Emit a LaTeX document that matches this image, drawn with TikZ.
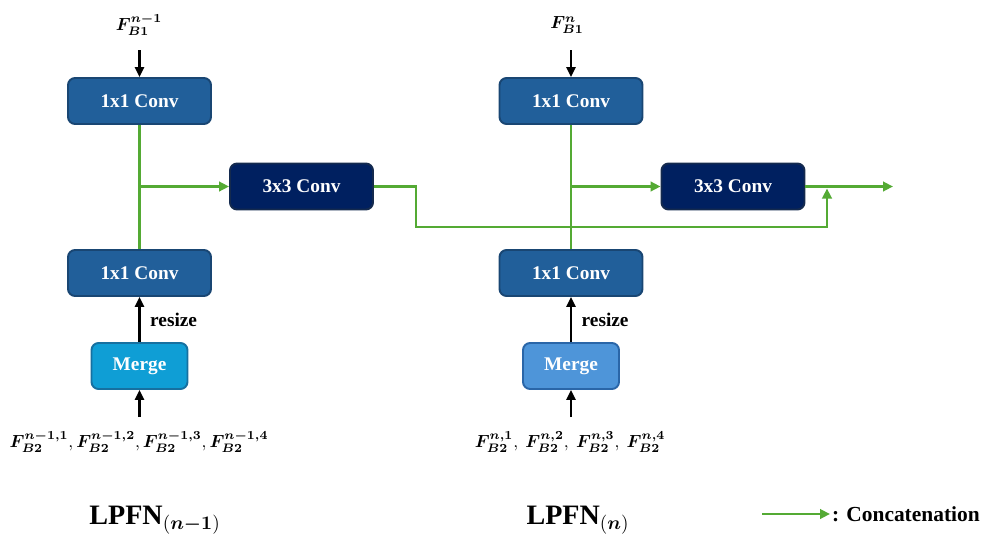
\documentclass[tikz,border=0pt]{standalone}
\usepackage{amsmath}
\usepackage{fontspec}
\setmainfont{Liberation Serif}
\usepackage{bm}
\usepackage{tikz}
\usetikzlibrary{arrows.meta}
\definecolor{nnconv}{RGB}{33, 95, 154}
\definecolor{nnconvdk}{RGB}{25, 70, 115}
\definecolor{nnnavy}{RGB}{0, 32, 96}
\definecolor{nnnavydk}{RGB}{20, 42, 78}
\definecolor{nncyan}{RGB}{15, 158, 213}
\definecolor{nncyandk}{RGB}{22, 112, 160}
\definecolor{nnsky}{RGB}{78, 149, 217}
\definecolor{nnskydk}{RGB}{42, 102, 168}
\definecolor{nngreen}{RGB}{84, 170, 52}

\begin{document}
\begin{tikzpicture}[x=0.02cm, y=-0.02cm,
  blockbox/.style={rounded corners=4pt, line width=1.1pt, text=white,
    font=\fontsize{11}{13}\selectfont\bfseries, inner sep=0pt,
    minimum width=2.86cm, minimum height=0.92cm},
  conva/.style={blockbox, fill=nnconv, draw=nnconvdk},
  convb/.style={blockbox, fill=nnnavy, draw=nnnavydk},
  mergebox/.style={blockbox, minimum width=1.92cm},
  cat/.style={nngreen, line width=1.5pt, -{Triangle[length=2mm, width=1.9mm]}},
  catline/.style={nngreen, line width=1.5pt},
  blk/.style={black, line width=1.5pt, -{Triangle[length=2mm, width=1.8mm]}},
  txt/.style={font=\fontsize{11}{13}\selectfont\bfseries},
  title/.style={font=\fontsize{16}{18}\selectfont\bfseries}]
\useasboundingbox (0,0) rectangle (988,538);

% Left block LPFN(n-1)
\node[conva] (topL) at (139.5,101) {1x1 Conv};
\node[convb] (midL) at (301.5,186.5) {3x3 Conv};
\node[conva] (botL) at (139.5,273) {1x1 Conv};
\node[mergebox, fill=nncyan, draw=nncyandk] (mrgL) at (139.5,366) {Merge};

% Right block LPFN(n)
\node[conva] (topR) at (571,101) {1x1 Conv};
\node[convb] (midR) at (733,186.5) {3x3 Conv};
\node[conva] (botR) at (571,273) {1x1 Conv};
\node[mergebox, fill=nnsky, draw=nnskydk] (mrgR) at (571,366) {Merge};

% Inputs
\node (inL) at (139,25) {$\bm{F^{n-1}_{B1}}$};
\node (inR) at (567,25) {$\bm{F^{n}_{B1}}$};
\node (fL) at (139,442) {$\bm{F^{n-1,1}_{B2}},\bm{F^{n-1,2}_{B2}},\bm{F^{n-1,3}_{B2}},\bm{F^{n-1,4}_{B2}}$};
\node (fR) at (570,442) {$\bm{F^{n,1}_{B2}},\ \bm{F^{n,2}_{B2}},\ \bm{F^{n,3}_{B2}},\ \bm{F^{n,4}_{B2}}$};
\coordinate (inLe) at (139.5,50);
\coordinate (inRe) at (571,50);
\coordinate (fLe) at (139.5,417);
\coordinate (fRe) at (571,417);

% Black arrows
\draw[blk] (inLe) -- (topL.north);
\draw[blk] (inRe) -- (topR.north);
\draw[blk] (fLe) -- (mrgL.south);
\draw[blk] (fRe) -- (mrgR.south);
\draw[blk] (mrgL.north) -- node[right, txt, xshift=2pt] {resize} (botL.south);
\draw[blk] (mrgR.north) -- node[right, txt, xshift=2pt] {resize} (botR.south);

% Concatenation paths
\coordinate (jL) at (139.5,186.5);
\coordinate (jR) at (571,186.5);
\coordinate (sk1) at (416,227);
\coordinate (sk2) at (827,227);
\coordinate (ctop) at (827,188.5);
\coordinate (outR) at (893,186.5);
\draw[catline] (topL.south) -- (botL.north);
\draw[catline] (topR.south) -- (botR.north);
\draw[cat] (jL) -- (midL.west);
\draw[cat] (jR) -- (midR.west);
\draw[cat] (midL.east) -| (sk1) -- (sk2) -- (ctop);
\draw[cat] (midR.east) -- (outR);

% Titles
\node[title] (tL) at (155,520) {LPFN$_{(\bm{n-1})}$};
\node[title] (tR) at (578,520) {LPFN$_{(\bm{n})}$};

% Legend
\coordinate (lgA) at (762,514);
\coordinate (lgB) at (830,514);
\draw[cat] (lgA) -- (lgB);
\node[anchor=west, inner sep=1pt, font=\fontsize{12.2}{14}\selectfont\bfseries] (lgT) at (lgB) {: Concatenation};
\end{tikzpicture}
\end{document}
